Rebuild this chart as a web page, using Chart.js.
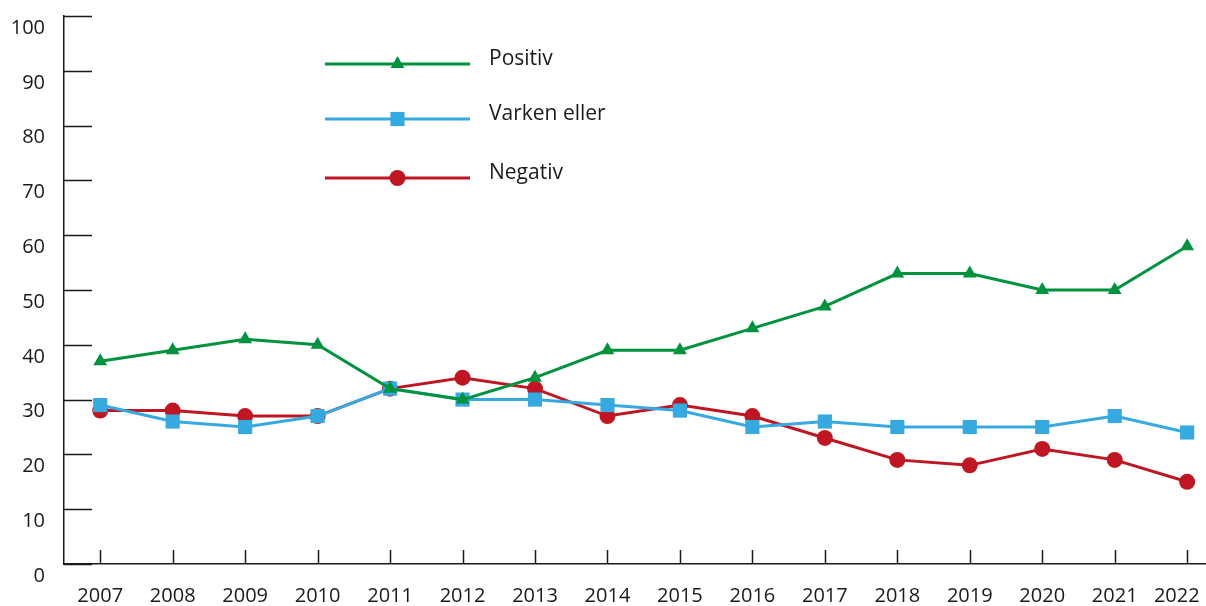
<!DOCTYPE html>
<html lang="no">
<head>
  <meta charset="UTF-8">
  <title>Positiv / Varken eller / Negativ</title>
  <script src="https://cdn.jsdelivr.net/npm/chart.js"></script>
  <style>
    html, body { margin: 0; padding: 0; background: #fff; }
    #wrap { width: 1206px; height: 606px; position: relative; }
  </style>
</head>
<body>
  <div id="wrap"><canvas id="chart"></canvas></div>

  <script>
    const years = [2007, 2008, 2009, 2010, 2011, 2012, 2013, 2014, 2015, 2016, 2017, 2018, 2019, 2020, 2021, 2022];
    const positiv = [37, 39, 41, 40, 32, 30, 34, 39, 39, 43, 47, 53, 53, 50, 50, 58];
    const varken = [29, 26, 25, 27, 32, 30, 30, 29, 28, 25, 26, 25, 25, 25, 27, 24];
    const negativ = [28, 28, 27, 27, 32, 34, 32, 27, 29, 27, 23, 19, 18, 21, 19, 15];
    const yTicks = [0, 10, 20, 30, 40, 50, 60, 70, 80, 90, 100];

    const GREEN = '#00923f';
    const BLUE = '#36a9e1';
    const RED = '#be1622';
    const INK = '#1a1a1a';
    const FONT = "'Open Sans', 'Noto Sans', sans-serif";

    const toPoints = vals => years.map((y, i) => ({ x: y, y: vals[i] }));

    // tick marks drawn on the inside of the axes
    const innerTicks = {
      id: 'innerTicks',
      beforeDatasetsDraw(chart) {
        const { ctx, chartArea, scales } = chart;
        ctx.save();
        ctx.strokeStyle = INK;
        ctx.lineWidth = 1.5;
        ctx.beginPath();
        yTicks.forEach(v => {
          const py = Math.round(scales.y.getPixelForValue(v)) + 0.5;
          ctx.moveTo(chartArea.left, py);
          ctx.lineTo(chartArea.left + 28, py);
        });
        years.forEach(v => {
          const px = Math.round(scales.x.getPixelForValue(v)) + 0.5;
          ctx.moveTo(px, chartArea.bottom);
          ctx.lineTo(px, chartArea.bottom - 14);
        });
        ctx.stroke();
        ctx.restore();
      }
    };

    // legend stacked in the upper-left part of the plot
    const stackedLegend = {
      id: 'stackedLegend',
      afterDraw(chart, args, opts) {
        const { ctx } = chart;
        ctx.save();
        chart.data.datasets.forEach((ds, i) => {
          const y = opts.rows[i];
          ctx.strokeStyle = ds.borderColor;
          ctx.lineWidth = ds.borderWidth;
          ctx.beginPath();
          ctx.moveTo(opts.x1, y);
          ctx.lineTo(opts.x2, y);
          ctx.stroke();
          ctx.fillStyle = ds.pointBackgroundColor;
          Chart.helpers.drawPoint(ctx, {
            pointStyle: ds.pointStyle,
            radius: ds.pointRadius,
            borderWidth: 0,
            rotation: 0
          }, (opts.x1 + opts.x2) / 2, y);
          ctx.fillStyle = INK;
          ctx.font = '21px ' + FONT;
          ctx.textBaseline = 'middle';
          ctx.textAlign = 'left';
          ctx.fillText(ds.label, opts.textX, y - 5);
        });
        ctx.restore();
      }
    };

    new Chart(document.getElementById('chart'), {
      type: 'line',
      data: {
        datasets: [
          {
            label: 'Positiv',
            data: toPoints(positiv),
            borderColor: GREEN,
            backgroundColor: GREEN,
            pointBackgroundColor: GREEN,
            pointBorderWidth: 0,
            pointStyle: 'triangle',
            pointRadius: 8,
            borderWidth: 3,
            clip: false
          },
          {
            label: 'Varken eller',
            data: toPoints(varken),
            borderColor: BLUE,
            backgroundColor: BLUE,
            pointBackgroundColor: BLUE,
            pointBorderWidth: 0,
            pointStyle: 'rect',
            pointRadius: 10,
            borderWidth: 3,
            clip: false
          },
          {
            label: 'Negativ',
            data: toPoints(negativ),
            borderColor: RED,
            backgroundColor: RED,
            pointBackgroundColor: RED,
            pointBorderWidth: 0,
            pointStyle: 'circle',
            pointRadius: 8,
            borderWidth: 3,
            clip: false
          }
        ]
      },
      options: {
        responsive: true,
        maintainAspectRatio: false,
        animation: false,
        layout: { autoPadding: false, padding: { top: 16, right: 0, left: 0, bottom: 0 } },
        plugins: {
          legend: { display: false },
          tooltip: { enabled: false },
          stackedLegend: { x1: 325, x2: 470, textX: 489, rows: [64, 119, 178] }
        },
        scales: {
          x: {
            type: 'linear',
            min: 2006.5,
            max: 2022.26,
            afterBuildTicks: s => { s.ticks = years.map(v => ({ value: v })); },
            afterFit: s => { s.height = 42; s.paddingLeft = 0; s.paddingRight = 0; },
            grid: { display: false, drawTicks: false },
            border: { display: true, color: INK, width: 1.5 },
            ticks: {
              color: INK,
              padding: 20,
              font: { family: FONT, size: 20 },
              maxRotation: 0,
              // last label is pulled left so it stays inside the canvas
              callback: v => v === years[years.length - 1] ? String(v) + '    ' : String(v)
            }
          },
          y: {
            min: 0,
            max: 100,
            afterBuildTicks: s => { s.ticks = yTicks.map(v => ({ value: v })); },
            afterFit: s => { s.width = 64; s.paddingTop = 0; s.paddingBottom = 0; },
            grid: { display: false, drawTicks: false },
            border: { display: true, color: INK, width: 1.5 },
            ticks: {
              color: INK,
              padding: 19,
              labelOffset: 12,
              font: { family: FONT, size: 20 }
            }
          }
        }
      },
      plugins: [innerTicks, stackedLegend]
    });
  </script>
</body>
</html>
